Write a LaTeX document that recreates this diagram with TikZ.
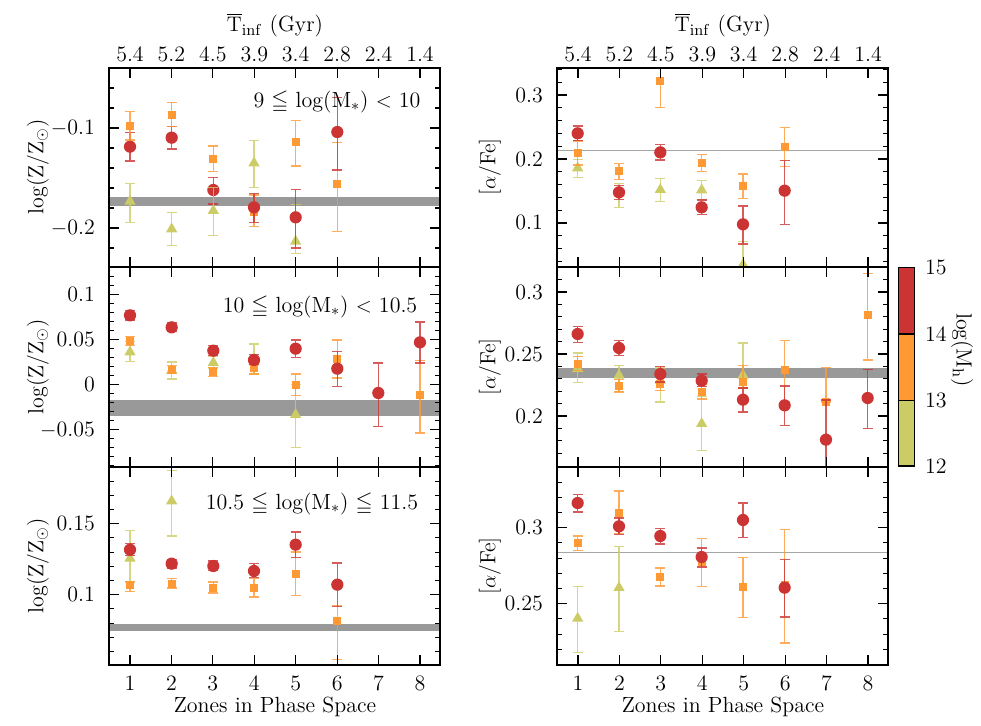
\documentclass[tikz,border=0pt]{standalone}
\usepackage{amssymb}
\usetikzlibrary{shapes.geometric}
\begin{document}
\begin{tikzpicture}[x=0.02cm,y=-0.02cm,font=\fontsize{12.5}{14}\selectfont]
\definecolor{cr}{HTML}{CC3333}
\definecolor{co}{HTML}{FF9933}
\definecolor{cg}{HTML}{CCCC66}
\tikzset{
 frame/.style={line width=0.9pt},
 tk/.style={line width=0.6pt},
 circ/.style={circle,inner sep=0pt,minimum size=0.245cm,draw=none},
 sq/.style={rectangle,inner sep=0pt,minimum size=0.165cm,draw=none},
 tri/.style={regular polygon,regular polygon sides=3,inner sep=0pt,minimum size=0.26cm,draw=none},
 eb/.style={line width=0.9pt,opacity=0.8}
}
\useasboundingbox (0,0) rectangle (981,725);
\newcommand{\ebar}[5]{\draw[eb,#5] (#1,#3)--(#1,#4) (#1-15,#3)--(#1+15,#3) (#1-15,#4)--(#1+15,#4);}
\newcommand{\R}[4]{\ebar{#1}{#2}{#3}{#4}{cr}\node[circ,fill=cr] at (#1,#2){};}
\newcommand{\Or}[4]{\ebar{#1}{#2}{#3}{#4}{co}\node[sq,fill=co] at (#1,#2){};}
\newcommand{\G}[4]{\ebar{#1}{#2}{#3}{#4}{cg}\node[tri,fill=cg] at (#1,#2+2){};}
\newenvironment{zpanel}[6]{\begin{scope}\clip (#3,#5) rectangle (#4,#6);
 \begin{scope}[xshift={#1*0.02cm},yshift={-#2*0.02cm},x=0.0066667cm,y=-0.0066667cm]}{\end{scope}\end{scope}}
\newcommand{\yticks}[6]{\foreach \k in {#5,...,#6}{
 \pgfmathsetmacro\ln{ifthenelse(mod(\k,5)==0,10,5)}
 \pgfmathsetmacro\yy{#3+#4*\k}
 \draw[tk] (#1,\yy)--++(\ln,0) (#2,\yy)--++(-\ln,0);}}
\newcommand{\xticks}[3]{\foreach \z in {0,...,7}{
 \draw[tk] (#1+41.43*\z,#2)--++(0,10) (#1+41.43*\z,#3)--++(0,-10);}}
\fill[gray!80] (109,197) rectangle (440,206);
\fill[gray!80] (109,400.3) rectangle (440,415.7);
\fill[gray!80] (109,624.3) rectangle (440,631.3);
\draw[gray!70,line width=0.8pt] (557,150.7)--(888,150.7);
\fill[gray!80] (557,368) rectangle (888,378);
\draw[gray!70,line width=0.8pt] (557,552.7)--(888,552.7);
\begin{zpanel}{100}{60}{109}{440}{68}{267}
\R{90}{260}{218}{303}\Or{90}{197}{155}{240}\G{90}{422}{370}{488}
\R{215}{233}{200}{267}\Or{215}{165}{128}{200}\G{215}{505}{457}{556}
\R{340}{390}{352}{432}\Or{340}{296}{258}{335}\G{340}{450}{383}{527}
\G{462}{307}{242}{382}\Or{462}{455}{405}{500}\R{462}{442}{400}{487}
\Or{587}{247}{182}{318}\G{587}{542}{433}{580}\R{587}{472}{388}{564}
\Or{712}{373}{247}{515}\R{712}{216}{112}{330}
\end{zpanel}
\begin{zpanel}{100}{238}{109}{440}{267}{467}
\G{90}{340}{310}{370}\Or{90}{308}{296}{322}\R{90}{232}{218}{246}
\G{215}{395}{372}{423}\Or{215}{395}{383}{407}\R{215}{268}{255}{281}
\G{340}{372}{355}{390}\Or{340}{402}{388}{416}\R{340}{338}{323}{353}
\G{462}{370}{318}{408}\Or{462}{390}{375}{408}\R{462}{366}{350}{380}
\G{587}{528}{440}{628}\Or{587}{440}{408}{472}\R{587}{332}{306}{358}
\Or{712}{363}{306}{420}\R{712}{392}{340}{446}
\R{835}{465}{375}{565}
\Or{960}{470}{368}{585}\R{960}{313}{252}{375}
\end{zpanel}
\begin{zpanel}{100}{462}{109}{440}{467}{665}
\G{90}{287}{205}{360}\Or{90}{370}{358}{388}\R{90}{263}{245}{280}
\G{215}{115}{25}{222}\Or{215}{365}{350}{378}\R{215}{305}{292}{318}
\Or{340}{377}{360}{393}\R{340}{312}{297}{326}
\Or{462}{378}{350}{405}\R{462}{327}{305}{347}
\Or{587}{335}{270}{400}\R{587}{248}{210}{287}
\Or{712}{478}{430}{592}\R{712}{368}{303}{433}
\end{zpanel}
\begin{zpanel}{540}{60}{557}{888}{68}{267}
\G{113}{322}{298}{352}\Or{113}{278}{243}{315}\R{113}{220}{198}{242}
\G{237}{397}{370}{442}\Or{237}{332}{310}{358}\R{237}{397}{376}{418}
\G{361}{387}{355}{425}\Or{361}{63}{25}{143}\R{361}{277}{253}{300}
\G{485}{388}{362}{418}\Or{485}{308}{283}{335}\R{485}{442}{420}{463}
\G{609}{612}{545}{680}\Or{609}{377}{342}{415}\R{609}{493}{438}{552}
\Or{734}{260}{202}{320}\R{734}{392}{302}{493}
\end{zpanel}
\begin{zpanel}{540}{238}{557}{888}{267}{467}
\G{113}{390}{345}{433}\Or{113}{378}{355}{398}\R{113}{288}{265}{313}
\G{237}{410}{382}{460}\Or{237}{443}{425}{462}\R{237}{330}{308}{352}
\G{361}{425}{390}{492}\Or{361}{437}{418}{458}\R{361}{408}{385}{432}
\G{485}{555}{475}{638}\Or{485}{462}{440}{483}\R{485}{428}{408}{445}
\G{609}{410}{315}{450}\Or{609}{432}{382}{450}\R{609}{485}{450}{522}
\Or{734}{395}{308}{492}\R{734}{502}{444}{563}
\Or{858}{493}{388}{492}\R{858}{605}{486}{720}
\Or{983}{230}{107}{366}\R{983}{480}{395}{572}
\end{zpanel}
\begin{zpanel}{540}{462}{557}{888}{467}{665}
\G{113}{467}{374}{572}\Or{113}{243}{222}{266}\R{113}{123}{98}{150}
\G{237}{375}{254}{508}\Or{237}{152}{87}{215}\R{237}{193}{168}{218}
\Or{361}{345}{318}{372}\R{361}{222}{200}{246}
\Or{485}{300}{230}{374}\R{485}{285}{258}{315}
\Or{609}{375}{286}{467}\R{609}{174}{123}{226}
\Or{734}{368}{203}{543}\R{734}{377}{293}{465}
\end{zpanel}
\foreach \xl/\xr in {109/440,557/888}{
 \draw[frame] (\xl,68) rectangle (\xr,665);
 \draw[frame] (\xl,267)--(\xr,267) (\xl,467)--(\xr,467);}
\foreach \xs in {130,578}{
 \xticks{\xs}{68}{267}\xticks{\xs}{267}{467}\xticks{\xs}{467}{665}}
\yticks{109}{440}{128}{20}{-2}{6}
\yticks{109}{440}{384.7}{9}{-12}{9}
\yticks{109}{440}{594.7}{14.2}{-8}{4}
\yticks{557}{888}{159}{12.8}{-7}{8}
\yticks{557}{888}{354}{12.4}{-6}{8}
\yticks{557}{888}{603.7}{15.2}{-8}{3}
\foreach \y/\t in {128/$-$0.1,228/$-$0.2,294.7/0.1,339.7/0.05,384.7/0,429.7/$-$0.05,523.7/0.15,594.7/0.1}
 \node[anchor=east] at (101,\y) {\t};
\foreach \y/\t in {95/0.3,159/0.2,222.7/0.1,292.3/0.3,354/0.25,416.3/0.2,527.7/0.3,603.7/0.25}
 \node[anchor=east] at (549,\y) {\t};
\foreach \y in {167,367,566}{
 \node[rotate=90] at (38,\y) {log(Z/Z$_\odot$)};
 \node[rotate=90] at (490,\y) {[$\alpha$/Fe]};}
\foreach \xs/\c in {130/275,578/723}{
 \foreach \z in {1,...,8} \node at (\xs+41.43*\z-41.43,683) {\z};
 \node at (\c,707) {Zones in Phase Space};
 \foreach \t [count=\i from 0] in {5.4,5.2,4.5,3.9,3.4,2.8,2.4,1.4}
  \node at (\xs+41.43*\i,54) {\t};
 \node at (\c,25) {$\overline{\mathrm{T}}_{\mathrm{inf}}$ (Gyr)};}
\node (t1) at (337,102) {9 $\leqq$ log(M$_\ast$) $<$ 10};
\node (t2) at (320,307) {10 $\leqq$ log(M$_\ast$) $<$ 10.5};
\node (t3) at (312,504) {10.5 $\leqq$ log(M$_\ast$) $\leqq$ 11.5};
\fill[cr] (898.3,267.3) rectangle (914.3,334);
\fill[co] (898.3,334) rectangle (914.3,400.7);
\fill[cg] (898.3,400.7) rectangle (914.3,466);
\draw[line width=0.6pt] (898.3,267.3) rectangle (914.3,466) (898.3,334)--(914.3,334) (898.3,400.7)--(914.3,400.7);
\foreach \y/\t in {267.3/15,334/14,400.7/13,466/12} \node[anchor=west] at (919,\y) {\t};
\node[rotate=-90] at (962,350) {log(M$_\mathrm{h}$)};
\end{tikzpicture}
\end{document}
